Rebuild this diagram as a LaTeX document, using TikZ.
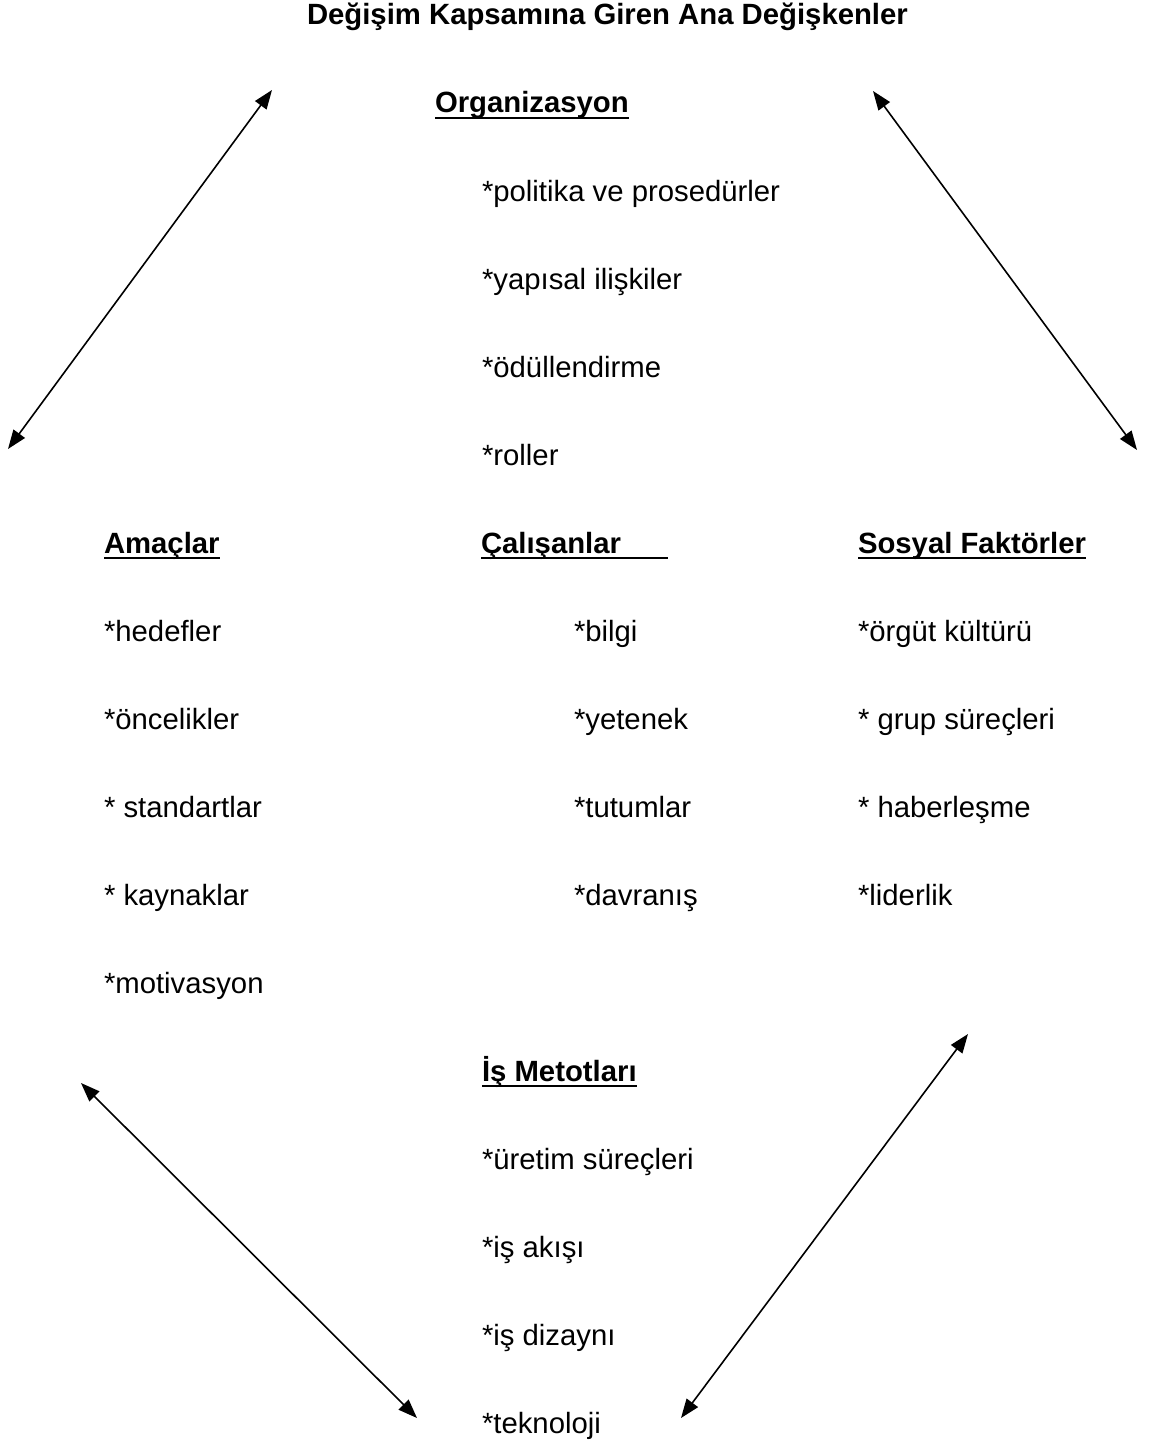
\documentclass[tikz,border=0pt]{standalone}
\usepackage{fontspec}
\setmainfont{Liberation Sans}
\usetikzlibrary{arrows.meta}

\tikzset{
  txt/.style={anchor=base west, inner sep=0pt, outer sep=0pt,
              font=\fontsize{29.3}{34}\selectfont},
  head/.style={txt, font=\fontsize{29.3}{34}\selectfont\bfseries},
  uline/.style={line width=2.7pt},
  link/.style={line width=1.6pt,
               {Triangle[length=19pt,width=14pt]}-{Triangle[length=19pt,width=14pt]}}
}

\begin{document}
\begin{tikzpicture}[x=1pt, y=-1pt]
  \useasboundingbox (0,0) rectangle (1149,1442);

  % title
  \node[head] (title) at (307,25) {Değişim Kapsamına Giren Ana Değişkenler};

  % Organizasyon
  \node[head] (org) at (435,113) {Organizasyon};
  \node[txt] (org1) at (482,201) {*politika ve prosedürler};
  \node[txt] (org2) at (482,289) {*yapısal ilişkiler};
  \node[txt] (org3) at (482,377) {*ödüllendirme};
  \node[txt] (org4) at (482,465) {*roller};

  % Amaçlar
  \node[head] (ama) at (104,553) {Amaçlar};
  \node[txt] (ama1) at (104,641) {*hedefler};
  \node[txt] (ama2) at (104,729) {*öncelikler};
  \node[txt] (ama3) at (104,817) {* standartlar};
  \node[txt] (ama4) at (104,905) {* kaynaklar};
  \node[txt] (ama5) at (104,993) {*motivasyon};

  % Çalışanlar
  \node[head] (cal) at (481,553) {Çalışanlar};
  \coordinate (calend) at (668,558);
  \node[txt] (cal1) at (574,641) {*bilgi};
  \node[txt] (cal2) at (574,729) {*yetenek};
  \node[txt] (cal3) at (574,817) {*tutumlar};
  \node[txt] (cal4) at (574,905) {*davranış};

  % Sosyal Faktörler
  \node[head] (sos) at (858,553) {Sosyal Faktörler};
  \node[txt] (sos1) at (858,641) {*örgüt kültürü};
  \node[txt] (sos2) at (858,729) {* grup süreçleri};
  \node[txt] (sos3) at (858,817) {* haberleşme};
  \node[txt] (sos4) at (858,905) {*liderlik};

  % İş Metotları
  \node[head] (ism) at (482,1081) {İş Metotları};
  \node[txt] (ism1) at (482,1169) {*üretim süreçleri};
  \node[txt] (ism2) at (482,1257) {*iş akışı};
  \node[txt] (ism3) at (482,1345) {*iş dizaynı};
  \node[txt] (ism4) at (482,1433) {*teknoloji};

  % heading underlines
  \foreach \n in {org, ama, sos, ism}
    \draw[uline] ([yshift=-5pt]\n.base west) -- ([yshift=-5pt]\n.base east);
  \draw[uline] ([yshift=-5pt]cal.base west) -- (calend);

  % double-headed connectors
  \coordinate (a1) at (272,90);   \coordinate (b1) at (8,449);
  \coordinate (a2) at (873,91);   \coordinate (b2) at (1137,450);
  \coordinate (a3) at (81,1083);  \coordinate (b3) at (417,1418);
  \coordinate (a4) at (968,1034); \coordinate (b4) at (681,1418);
  \draw[link] (a1) -- (b1);
  \draw[link] (a2) -- (b2);
  \draw[link] (a3) -- (b3);
  \draw[link] (a4) -- (b4);
\end{tikzpicture}
\end{document}
